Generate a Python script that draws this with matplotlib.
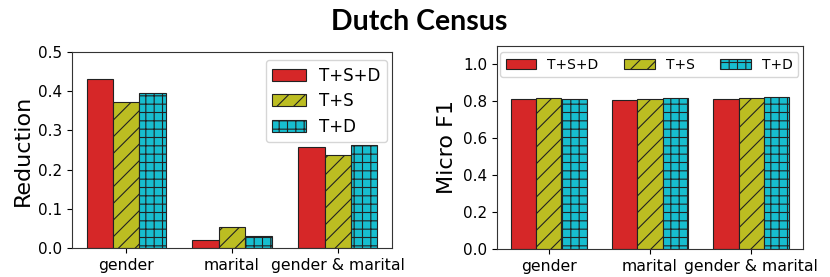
import matplotlib
matplotlib.use("Agg")
import matplotlib.pyplot as plt
import numpy as np

categories = ["gender", "marital", "gender & marital"]
series = ["T+S+D", "T+S", "T+D"]
reduction = {
    "T+S+D": [0.430, 0.020, 0.258],
    "T+S":   [0.372, 0.054, 0.236],
    "T+D":   [0.395, 0.030, 0.264],
}
micro_f1 = {
    "T+S+D": [0.815, 0.810, 0.815],
    "T+S":   [0.820, 0.815, 0.820],
    "T+D":   [0.815, 0.820, 0.825],
}
colors = ["#d62728", "#bcbd22", "#17becf"]
hatches = ["", "//", "++"]

plt.rcParams["font.family"] = ["DejaVu Sans"]
plt.rcParams["hatch.linewidth"] = 0.8
fig = plt.figure(figsize=(8.3, 2.77), dpi=100)
ax1 = fig.add_axes([72/830, 1-248/277, 320/830, 196/277])
ax2 = fig.add_axes([497/830, 1-249/277, 306/830, 203/277])

x = np.arange(len(categories))
w = 0.25
for ax, data in ((ax1, reduction), (ax2, micro_f1)):
    for i, s in enumerate(series):
        ax.bar(x + (i - 1) * w, data[s], w, color=colors[i], hatch=hatches[i],
               edgecolor="#222222", linewidth=0.8, label=s)
    ax.set_xticks(x)
    ax.set_xticklabels(categories, fontsize=11.3)
    ax.tick_params(axis="y", labelsize=11)
    for sp in ax.spines.values():
        sp.set_color("#333333")

ax1.set_ylim(0, 0.5)
ax1.set_yticks([0, 0.1, 0.2, 0.3, 0.4, 0.5])
ax1.set_ylabel("Reduction", fontsize=16)
ax1.legend(loc="upper right", fontsize=12, handlelength=2.0, labelspacing=0.45,
           bbox_to_anchor=(0.985, 0.96), borderaxespad=0)

ax2.set_ylim(0, 1.1)
ax2.set_yticks([0, 0.2, 0.4, 0.6, 0.8, 1.0])
ax2.set_ylabel("Micro F1", fontsize=16)
ax2.legend(loc="upper center", ncol=3, fontsize=10, mode="expand",
           bbox_to_anchor=(0.01, 0.97, 0.975, 0.0), borderaxespad=0, handlelength=2.2)

fig.text(0.505, 0.922, "Dutch Census", ha="center", va="center",
         fontsize=20.5, fontweight="bold", family=["Lato", "DejaVu Sans"])

fig.savefig("out.png", dpi=100)
